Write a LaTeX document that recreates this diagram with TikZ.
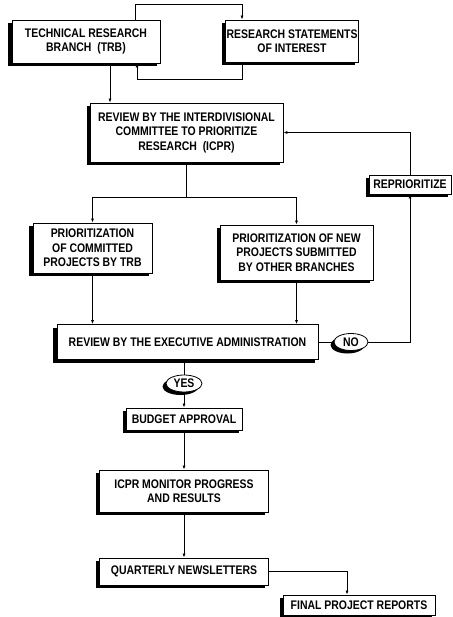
\documentclass[tikz,border=0pt]{standalone}
\usepackage{fontspec}
\setmainfont{Liberation Sans}[FakeStretch=0.84]
\usetikzlibrary{arrows.meta,shadows,shapes.geometric}

\tikzset{
  flowbox/.style={draw, fill=white, line width=0.8bp, align=center, inner sep=1bp,
    font=\bfseries\fontsize{12.5}{14.5}\selectfont,
    drop shadow={shadow xshift=-3.5bp, shadow yshift=-3bp, fill=black, opacity=1}},
  answer/.style={flowbox, ellipse, inner sep=0pt}
}

\begin{document}
\begin{tikzpicture}[x=1bp,y=-1bp,>={Latex[length=4bp,width=3bp]},line width=0.7bp]
  \useasboundingbox (0,0) rectangle (453,617);
  % Sources of research topics
  \node[flowbox,minimum width=148bp,minimum height=43bp] (trb) at (86,41.5) {TECHNICAL RESEARCH\\BRANCH\ \ (TRB)};
  \node[flowbox,minimum width=130bp,minimum height=42bp] (rsi) at (292,41) {RESEARCH STATEMENTS\\OF INTEREST};
  % Committee review
  \node[flowbox,minimum width=193bp,minimum height=59bp] (icpr) at (186.5,132.5) {REVIEW BY THE INTERDIVISIONAL\\COMMITTEE TO PRIORITIZE\\RESEARCH\ \ (ICPR)};
  \node[flowbox,minimum width=82bp,minimum height=19bp] (repr) at (410,184.5) {REPRIORITIZE};
  \node[flowbox,minimum width=119bp,minimum height=50bp] (pcom) at (92.5,248) {PRIORITIZATION\\OF COMMITTED\\PROJECTS BY TRB};
  \node[flowbox,minimum width=153bp,minimum height=55bp] (pnew) at (296.5,252.5) {PRIORITIZATION OF NEW\\PROJECTS SUBMITTED\\BY OTHER BRANCHES};
  % Executive decision
  \node[flowbox,minimum width=261bp,minimum height=35bp] (exec) at (187.5,342) {REVIEW BY THE EXECUTIVE ADMINISTRATION};
  \node[answer,minimum width=34bp,minimum height=17bp] (no) at (351,342) {NO};
  \node[answer,minimum width=36bp,minimum height=17bp] (yes) at (184,383.5) {YES};
  % Funded projects
  \node[flowbox,minimum width=116bp,minimum height=22bp] (budget) at (184,419) {BUDGET APPROVAL};
  \node[flowbox,minimum width=169bp,minimum height=42bp] (mon) at (184,491) {ICPR MONITOR PROGRESS\\AND RESULTS};
  \node[flowbox,minimum width=169bp,minimum height=27bp] (qn) at (184,571.5) {QUARTERLY NEWSLETTERS};
  \node[flowbox,minimum width=152bp,minimum height=20bp] (fpr) at (359,605) {FINAL PROJECT REPORTS};
  % Loop between TRB and research statements
  \draw[->] ([xshift=49bp]trb.north) -- ++(0,-15) -| ([xshift=-50bp]rsi.north);
  \draw[->] ([xshift=-50bp]rsi.south) -- ++(0,17) -| ([xshift=51bp]trb.south);
  \draw[->] ([xshift=24bp]trb.south) -- ([xshift=24bp]trb.south |- icpr.north);
  % Split into the two priority lists
  \draw (icpr.south) -- ++(0,35) coordinate (split);
  \draw[->] (split) -| (pcom.north);
  \draw[->] (split) -| (pnew.north);
  \draw[->] (pcom.south) -- (pcom.south |- exec.north);
  \draw[->] (pnew.south) -- (pnew.south |- exec.north);
  % Rejected: back to the committee
  \draw (exec.east) -- (no.west);
  \draw[->] (no.east) -| (repr.south);
  \draw[->] (repr.north) |- (icpr.east);
  % Accepted
  \draw (exec.south -| yes.north) -- (yes.north);
  \draw[->] (yes.south) -- (budget.north);
  \draw[->] (budget.south) -- (mon.north);
  \draw[->] (mon.south) -- (qn.north);
  \draw[->] (qn.east) -| ([xshift=-12bp]fpr.north);
\end{tikzpicture}
\end{document}
